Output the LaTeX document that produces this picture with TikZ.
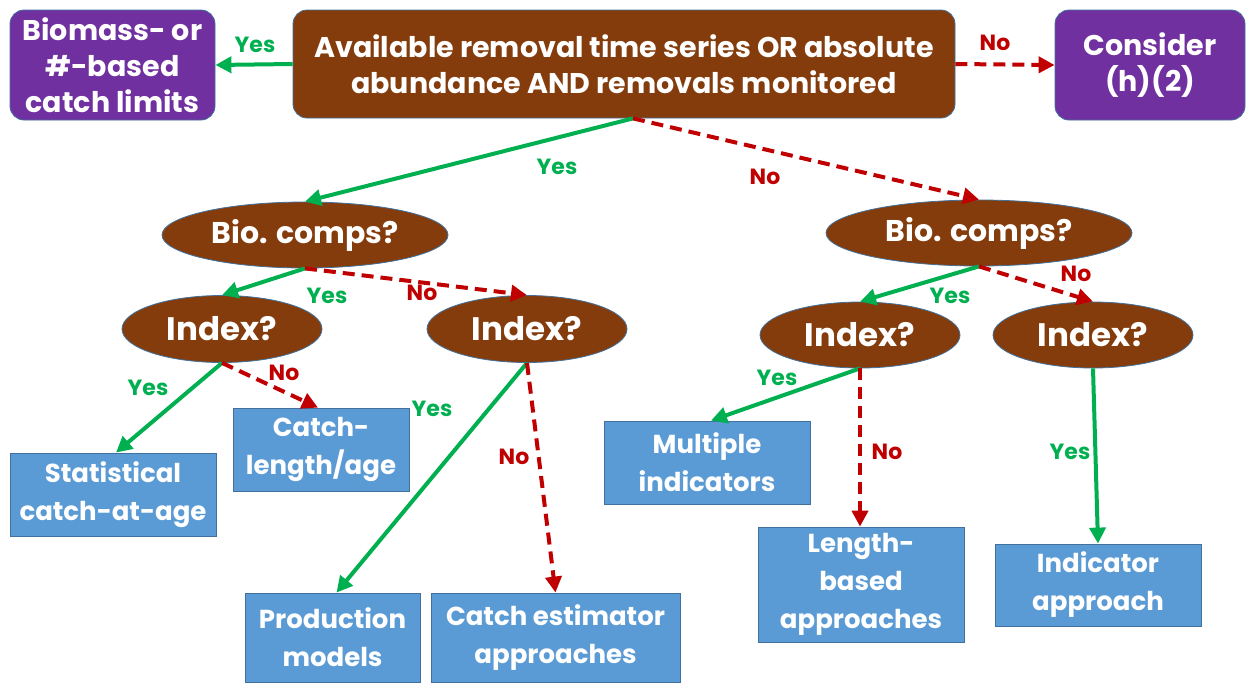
\documentclass[tikz,border=0pt]{standalone}
\usepackage{fontspec}
\setmainfont{Poppins}
\usetikzlibrary{arrows.meta,shapes.geometric}
\definecolor{purp}{HTML}{7030A0}
\definecolor{brn}{HTML}{843C0C}
\definecolor{bluebox}{HTML}{5B9BD5}
\definecolor{edge}{HTML}{41719C}
\definecolor{grn}{HTML}{00B050}
\definecolor{rd}{HTML}{C00000}
\tikzset{
  txt/.style={text=white, font=\bfseries\fontsize{28.5}{36}\selectfont, align=center, inner sep=0pt},
  purplebox/.style={txt, rectangle, rounded corners=14pt, fill=purp, draw=edge, line width=0.8pt},
  brownbox/.style={txt, rectangle, rounded corners=14pt, fill=brn, draw=edge, line width=0.8pt},
  question/.style={txt, ellipse, fill=brn, draw=edge, line width=0.8pt, font=\bfseries\fontsize{30}{38}\selectfont},
  bigq/.style={question, font=\bfseries\fontsize{32.5}{38}\selectfont},
  result/.style={txt, rectangle, fill=bluebox, draw=edge, line width=0.8pt, font=\bfseries\fontsize{26}{38}\selectfont},
  yesarrow/.style={draw=grn, line width=4pt, -{Triangle[length=16pt,width=16pt]}},
  noarrow/.style={draw=rd, line width=4pt, dash pattern=on 12pt off 7pt, -{Triangle[length=16pt,width=16pt]}},
  yeslbl/.style={text=grn, font=\bfseries\fontsize{22}{24}\selectfont, inner sep=0pt},
  nolbl/.style={text=rd, font=\bfseries\fontsize{22}{24}\selectfont, inner sep=0pt},
}
\begin{document}
\begin{tikzpicture}[x=1pt,y=-1pt]
\useasboundingbox (0,0) rectangle (1246,683);
% top row
\node[purplebox, minimum width=205pt, minimum height=110pt] (bm) at (112.5,65) {Biomass- or\\\#-based\\catch limits};
\node[brownbox, minimum width=662pt, minimum height=108pt] (main) at (624,64) {Available removal time series OR absolute\\abundance AND removals monitored};
\node[purplebox, minimum width=190pt, minimum height=110pt] (cons) at (1150,65) {Consider\\(h)(2)};
% questions
\node[question, minimum width=286pt, minimum height=66pt] (bio1) at (305,235) {Bio. comps?};
\node[question, minimum width=306pt, minimum height=66pt] (bio2) at (979,233) {Bio. comps?};
\node[bigq, minimum width=200pt, minimum height=67pt] (idx1) at (222,329) {Index?};
\node[bigq, minimum width=200pt, minimum height=67pt] (idx2) at (527,329) {Index?};
\node[bigq, minimum width=200pt, minimum height=66pt] (idx3) at (860,335) {Index?};
\node[bigq, minimum width=200pt, minimum height=66pt] (idx4) at (1093,335) {Index?};
% results
\node[result, minimum width=206pt, minimum height=83pt] (stat) at (113,494.5) {Statistical\\catch-at-age};
\node[result, minimum width=176pt, minimum height=83pt] (cla) at (321,449.5) {Catch-\\length/age};
\node[result, minimum width=175pt, minimum height=89pt] (prod) at (332.5,637.5) {Production\\models};
\node[result, minimum width=249pt, minimum height=89pt] (cest) at (555.5,637.5) {Catch estimator\\approaches};
\node[result, minimum width=206pt, minimum height=83pt] (mult) at (707,462.5) {Multiple\\indicators};
\node[result, minimum width=206pt, minimum height=115pt] (len) at (861,584.5) {Length-\\based\\approaches};
\node[result, minimum width=206pt, minimum height=82pt] (ind) at (1098,585) {Indicator\\approach};
% connectors
\draw[yesarrow] (main.west) -- (bm.east);
\draw[noarrow] (main.east) -- (cons.west);
\draw[yesarrow] ([xshift=9pt]main.south) -- (bio1.north);
\draw[noarrow] ([xshift=9pt]main.south) -- (bio2.north);
\draw[yesarrow] (bio1.south) -- (idx1.north);
\draw[noarrow] (bio1.south) -- (idx2.north);
\draw[yesarrow] (bio2.south) -- (idx3.north);
\draw[noarrow] (bio2.south) -- (idx4.north);
\draw[yesarrow] (idx1.south) -- ([xshift=3pt]stat.north);
\draw[noarrow] (idx1.south) -- ([xshift=-3pt]cla.north);
\draw[yesarrow] (idx2.south) -- ([xshift=4pt]prod.north);
\draw[noarrow] (idx2.south) -- (cest.north);
\draw[yesarrow] (idx3.south) -- ([xshift=4pt]mult.north);
\draw[noarrow] (idx3.south) -- ([xshift=-1pt]len.north);
\draw[yesarrow] (idx4.south) -- (ind.north);
% labels
\node[yeslbl] (l1) at (255,45) {Yes};
\node[nolbl] (l2) at (995,43) {No};
\node[yeslbl] (l3) at (557,167) {Yes};
\node[nolbl] (l4) at (765,177) {No};
\node[yeslbl] (l5) at (327,296) {Yes};
\node[nolbl] (l6) at (422,293) {No};
\node[yeslbl] (l7) at (950,296) {Yes};
\node[nolbl] (l8) at (1076,274) {No};
\node[yeslbl] (l9) at (148,388) {Yes};
\node[nolbl] (l10) at (284,373) {No};
\node[yeslbl] (l11) at (432,409) {Yes};
\node[nolbl] (l12) at (514,457) {No};
\node[yeslbl] (l13) at (777,378) {Yes};
\node[nolbl] (l14) at (887,452) {No};
\node[yeslbl] (l15) at (1070,452) {Yes};
\end{tikzpicture}
\end{document}
